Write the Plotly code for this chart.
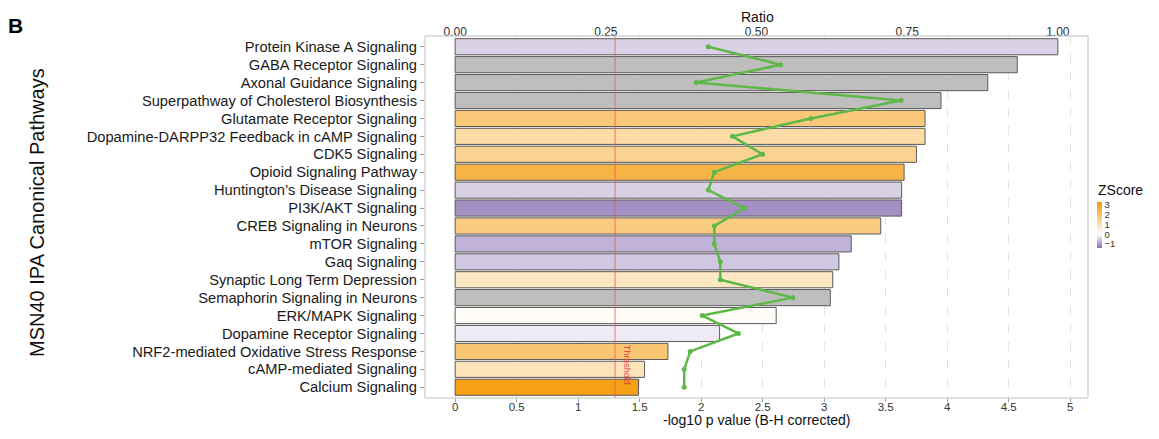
import plotly.graph_objects as go

categories = [
    "Protein Kinase A Signaling",
    "GABA Receptor Signaling",
    "Axonal Guidance Signaling",
    "Superpathway of Cholesterol Biosynthesis",
    "Glutamate Receptor Signaling",
    "Dopamine-DARPP32 Feedback in cAMP Signaling",
    "CDK5 Signaling",
    "Opioid Signaling Pathway",
    "Huntington\u2019s Disease Signaling",
    "PI3K/AKT Signaling",
    "CREB Signaling in Neurons",
    "mTOR Signaling",
    "Gaq Signaling",
    "Synaptic Long Term Depression",
    "Semaphorin Signaling in Neurons",
    "ERK/MAPK Signaling",
    "Dopamine Receptor Signaling",
    "NRF2-mediated Oxidative Stress Response",
    "cAMP-mediated Signaling",
    "Calcium Signaling",
]
neglog_p = [4.90, 4.57, 4.33, 3.95, 3.82, 3.82, 3.75, 3.65, 3.63, 3.63,
            3.46, 3.22, 3.12, 3.07, 3.05, 2.61, 2.15, 1.73, 1.54, 1.49]
ratio = [0.42, 0.54, 0.40, 0.74, 0.59, 0.46, 0.51, 0.43, 0.42, 0.48,
         0.43, 0.43, 0.44, 0.44, 0.56, 0.41, 0.47, 0.39, 0.38, 0.38]
zscore = [-0.45, None, None, None, 1.77, 1.18, 1.43, 2.45, -0.45, -1.1,
          1.67, -0.75, -0.55, 0.80, None, 0.10, -0.20, 1.86, 0.92, 3.10]
threshold = 1.3
x_ticks = [0, 0.5, 1, 1.5, 2, 2.5, 3, 3.5, 4, 4.5, 5]
x_ticklabels = ["0", "0.5", "1", "1.5", "2", "2.5", "3", "3.5", "4", "4.5", "5"]
ratio_ticks = [0, 0.25, 0.5, 0.75, 1.0]
ratio_ticklabels = ["0.00", "0.25", "0.50", "0.75", "1.00"]
z_ticks = [-1, 0, 1, 2, 3]

FONT = "Liberation Sans, Arial, sans-serif"
OFF = 8  # browser body margin
W, H = 1159 - 2 * OFF, 439 - 2 * OFF
ML = 425 - OFF
MT = 36 - OFF
MR = W - (1088 - OFF)
MB = H - (398 - OFF)
PW = W - ML - MR
PH = H - MT - MB


def px(x):  # reference pixel -> paper x
    return (x - OFF - ML) / PW


def py(y):  # reference pixel -> paper y
    return 1 - (y - OFF - MT) / PH


xmax = 4.9
xr = [-0.05 * xmax, 1.05 * xmax]
rr = [xr[0] / xmax, xr[1] / xmax]
n = len(categories)
yr = [n - 1 + 0.6, -0.6]

zmin, zmax = -1.41, 3.31
mid = (0 - zmin) / (zmax - zmin)
cscale = [[0, "#8A6FB3"], [mid, "#FFFFFF"], [1, "#F49A05"]]

fig = go.Figure()

yz = [c for c, z in zip(categories, zscore) if z is not None]
xz = [p for p, z in zip(neglog_p, zscore) if z is not None]
zz = [z for z in zscore if z is not None]
yn = [c for c, z in zip(categories, zscore) if z is None]
xn = [p for p, z in zip(neglog_p, zscore) if z is None]

fig.add_trace(go.Bar(
    x=xn, y=yn, orientation="h", width=0.9,
    marker=dict(color="#BEBEBE", line=dict(color="#5A5A5A", width=1)),
    showlegend=False, hoverinfo="skip"))

fig.add_trace(go.Bar(
    x=xz, y=yz, orientation="h", width=0.9,
    marker=dict(color=zz, colorscale=cscale, cmin=zmin, cmax=zmax,
                line=dict(color="#5A5A5A", width=1),
                showscale=True,
                colorbar=dict(
                    xref="paper", x=px(1097), xanchor="left",
                    yref="paper", y=py(225), yanchor="middle",
                    lenmode="pixels", len=46, thickness=5,
                    thicknessmode="pixels",
                    xpad=0, ypad=0, outlinewidth=0,
                    tickvals=z_ticks, ticks="",
                    tickfont=dict(family=FONT, size=9.5, color="#333"),
                )),
    showlegend=False, hoverinfo="skip"))

fig.add_trace(go.Scatter(
    x=ratio, y=categories, xaxis="x2", yaxis="y",
    mode="lines+markers",
    line=dict(color="#5DB847", width=2.5),
    marker=dict(color="#5DB847", size=5),
    showlegend=False, hoverinfo="skip"))

fig.update_layout(
    width=W, height=H,
    margin=dict(l=ML, r=MR, t=MT, b=MB, autoexpand=False),
    paper_bgcolor="white", plot_bgcolor="white",
    barmode="overlay",
    font=dict(family=FONT, color="#222"),
    xaxis=dict(
        range=xr, tickvals=x_ticks, ticktext=x_ticklabels,
        showgrid=True, gridcolor="#E3E3E3", griddash="dash", gridwidth=1,
        zeroline=False, ticks="outside", ticklen=3, tickcolor="#9A9A9A",
        ticklabelstandoff=-5,
        tickfont=dict(family=FONT, size=11.5, color="#333"),
        automargin=False,
    ),
    xaxis2=dict(
        overlaying="x", side="top", range=rr,
        tickvals=ratio_ticks, ticktext=ratio_ticklabels,
        showgrid=False, zeroline=False, ticks="outside", ticklen=2,
        tickcolor="#9A9A9A", ticklabelstandoff=-8,
        tickfont=dict(family=FONT, size=12, color="#333"),
        automargin=False,
    ),
    yaxis=dict(
        categoryorder="array", categoryarray=categories,
        tickmode="array", tickvals=categories, ticktext=categories,
        range=yr, autorange=False, showgrid=False, zeroline=False,
        ticks="outside", ticklen=4, tickcolor="#9A9A9A",
        tickfont=dict(family=FONT, size=14.7, color="#1A1A1A"),
        automargin=False,
    ),
    shapes=[
        dict(type="line", xref="x", yref="paper", x0=threshold, x1=threshold,
             y0=0, y1=1, line=dict(color="rgba(238,80,80,0.75)", width=1),
             layer="above"),
        dict(type="rect", xref="paper", yref="paper", x0=0, x1=1, y0=0, y1=1,
             line=dict(color="#BFBFBF", width=1), layer="above"),
    ],
    annotations=[
        dict(text="Threshold", xref="x", yref="paper", x=1.40,
             y=py(365), textangle=90, showarrow=False,
             xanchor="center", yanchor="middle",
             font=dict(family=FONT, size=9, color="#E8413A")),
        dict(text="Ratio", xref="paper", yref="paper",
             x=px(757), y=py(17), showarrow=False,
             xanchor="center", yanchor="middle",
             font=dict(family=FONT, size=14, color="#111")),
        dict(text="-log10 p value (B-H corrected)", xref="paper", yref="paper",
             x=px(757), y=py(420), showarrow=False,
             xanchor="center", yanchor="middle",
             font=dict(family=FONT, size=14, color="#111")),
        dict(text="MSN40 IPA Canonical Pathways", xref="paper", yref="paper",
             x=px(37), y=py(213),
             textangle=-90, showarrow=False, xanchor="center", yanchor="middle",
             font=dict(family=FONT, size=20, color="#111")),
        dict(text="<b>B</b>", xref="paper", yref="paper",
             x=px(15), y=py(26),
             showarrow=False, xanchor="center", yanchor="middle",
             font=dict(family=FONT, size=21, color="#000")),
        dict(text="ZScore", xref="paper", yref="paper",
             x=px(1096), y=py(190),
             showarrow=False, xanchor="left", yanchor="middle",
             font=dict(family=FONT, size=14, color="#111")),
    ],
)

fig.write_html("out.html")
